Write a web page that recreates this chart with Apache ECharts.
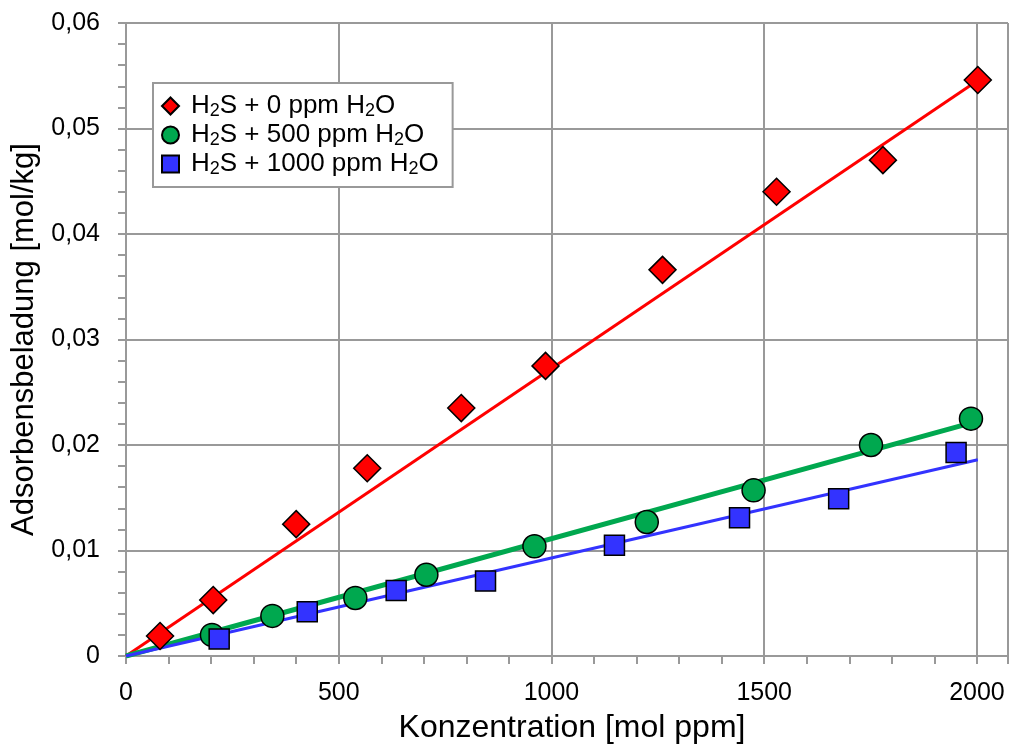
<!DOCTYPE html>
<html>
<head>
<meta charset="utf-8">
<script src="https://cdn.jsdelivr.net/npm/echarts@6/dist/echarts.min.js"></script>
<style>
  html, body { margin: 0; padding: 0; background: #fff; }
  #chart { width: 1012px; height: 749px; }
</style>
</head>
<body>
<div id="chart"></div>
<script>
// Messpunkte [Konzentration, Beladung]
const h2s0 = [[80, 0.0019], [205, 0.0053], [400, 0.0125], [567, 0.0178], [788, 0.0235],
  [986, 0.0275], [1261, 0.0366], [1529, 0.0440], [1779, 0.0470], [2002, 0.0546]];
const h2s500 = [[202, 0.0020], [344, 0.0038], [539, 0.0055], [706, 0.0077], [960, 0.0104],
  [1224, 0.0127], [1475, 0.0157], [1751, 0.0200], [1986, 0.0225]];
const h2s1000 = [[219, 0.0016], [426, 0.0042], [635, 0.0062], [845, 0.0071], [1148, 0.0105],
  [1442, 0.0131], [1675, 0.0149], [1951, 0.0193]];
// Ausgleichsgeraden
const fit0 = [[0, 0], [2000, 0.0545]];
const fit500 = [[0, 0], [1970, 0.0219]];
const fit1000 = [[0, 0], [2002, 0.0186]];

const names = ['H2S + 0 ppm H2O', 'H2S + 500 ppm H2O', 'H2S + 1000 ppm H2O'];
const labels = {
  'H2S + 0 ppm H2O': '{gap|}H{sub|2}S + 0 ppm H{sub|2}O',
  'H2S + 500 ppm H2O': '{gap|}H{sub|2}S + 500 ppm H{sub|2}O',
  'H2S + 1000 ppm H2O': '{gap|}H{sub|2}S + 1000 ppm H{sub|2}O'
};

const gray = '#999';
const font = 'Liberation Sans, Arial, sans-serif';

const chart = echarts.init(document.getElementById('chart'));
const option = {
  animation: false,
  textStyle: { fontFamily: font },
  grid: { left: 126, top: 23, right: 4, bottom: 92 },
  legend: {
    orient: 'vertical',
    left: 153, top: 83,
    itemWidth: 17, itemHeight: 17,
    itemGap: 1,
    padding: [9, 14, 9, 8],
    backgroundColor: '#fff',
    borderColor: gray, borderWidth: 2,
    data: [
      { name: names[0], icon: 'diamond' },
      { name: names[1], icon: 'circle' },
      { name: names[2], icon: 'rect' }
    ],
    formatter: n => labels[n],
    textStyle: {
      fontSize: 26, lineHeight: 26, color: '#000', fontFamily: font,
      rich: {
        gap: { width: 7 },
        sub: { fontSize: 18, lineHeight: 18, padding: [10, 0, 0, 0], color: '#000', fontFamily: font }
      }
    }
  },
  xAxis: {
    type: 'value', min: 0, max: 2073, interval: 500,
    name: 'Konzentration [mol ppm]', nameLocation: 'middle', nameGap: 56,
    nameTextStyle: { fontSize: 32, color: '#000', padding: [0, 0, 0, 10] },
    axisLine: { lineStyle: { color: gray, width: 2 } },
    axisTick: { show: true, length: 8, lineStyle: { color: gray, width: 2 } },
    minorTick: { show: true, splitNumber: 5, length: 8, lineStyle: { color: gray, width: 2 } },
    axisLabel: { fontSize: 25, color: '#000', margin: 25, showMaxLabel: false, formatter: v => String(v) },
    splitLine: { show: true, lineStyle: { color: gray, width: 2 } }
  },
  yAxis: {
    type: 'value', min: 0, max: 0.06, interval: 0.01,
    name: 'Adsorbensbeladung [mol/kg]', nameLocation: 'middle', nameGap: 84,
    nameTextStyle: { fontSize: 31, color: '#000' },
    axisLine: { show: true, lineStyle: { color: gray, width: 2 } },
    axisTick: { show: true, length: 8, lineStyle: { color: gray, width: 2 } },
    minorTick: { show: true, splitNumber: 5, length: 8, lineStyle: { color: gray, width: 2 } },
    axisLabel: {
      fontSize: 25, color: '#000', margin: 26,
      formatter: v => v === 0 ? '0' : v.toFixed(2).replace('.', ',')
    },
    splitLine: { show: true, lineStyle: { color: gray, width: 2 } }
  },
  series: [
    { name: 'fit0', type: 'line', data: fit0, symbol: 'none', lineStyle: { color: '#ff0000', width: 3 }, z: 2 },
    { name: 'fit500', type: 'line', data: fit500, symbol: 'none', lineStyle: { color: '#00a84f', width: 5 }, z: 2 },
    { name: 'fit1000', type: 'line', data: fit1000, symbol: 'none', lineStyle: { color: '#3333ff', width: 3 }, z: 2 },
    { name: names[0], type: 'scatter', data: h2s0, symbol: 'diamond', symbolSize: 27,
      itemStyle: { color: '#ff0000', borderColor: '#000', borderWidth: 1.5, opacity: 1 }, z: 5 },
    { name: names[1], type: 'scatter', data: h2s500, symbol: 'circle', symbolSize: 23,
      itemStyle: { color: '#00a84f', borderColor: '#000', borderWidth: 1.5, opacity: 1 }, z: 4 },
    { name: names[2], type: 'scatter', data: h2s1000, symbol: 'rect', symbolSize: 20,
      itemStyle: { color: '#3333ff', borderColor: '#000', borderWidth: 1.5, opacity: 1 }, z: 6 }
  ]
};
chart.setOption(option);
window.addEventListener('resize', () => chart.resize());
</script>
</body>
</html>
